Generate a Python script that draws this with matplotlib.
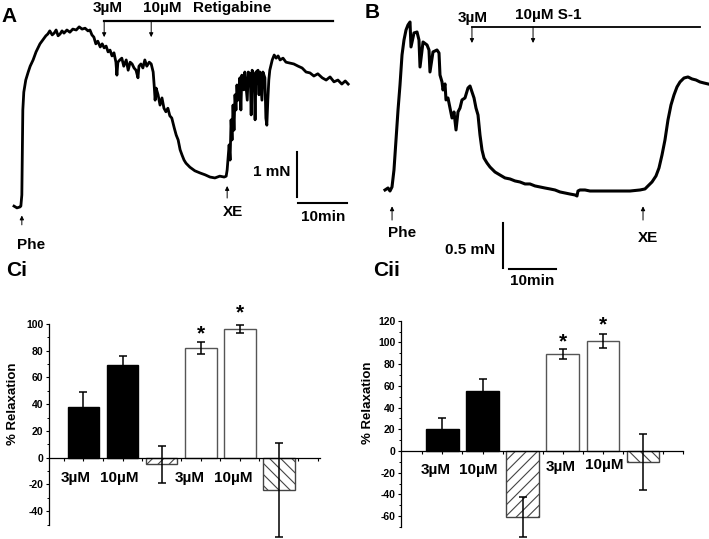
import matplotlib
matplotlib.use('Agg')
import matplotlib.pyplot as plt
import numpy as np
from matplotlib.ticker import MultipleLocator

plt.rcParams['font.family'] = ['Liberation Sans', 'DejaVu Sans']
plt.rcParams['font.weight'] = 'bold'
plt.rcParams['hatch.linewidth'] = 0.8
plt.rcParams['hatch.color'] = '#333333'
plt.rcParams['axes.unicode_minus'] = False

# ---------------- data ----------------
# Panel A trace: time (min) vs force (mN), Retigabine
a_time = [0, 0.6, 1.2, 1.4, 1.6, 1.7, 1.8, 2.0, 2.4, 2.9, 3.3, 3.9, 4.5, 4.9, 5.3, 5.9, 6.5, 6.9, 7.3, 7.8,
          8.2, 8.6, 9.0, 9.4, 9.8, 10.2, 10.8, 11.4, 12.0, 12.7, 13.3, 13.9, 14.5, 15.1, 15.5, 15.9, 16.3,
          16.7, 17.1, 17.6, 18.0, 18.4, 18.8, 19.2, 19.6, 20.0, 20.4, 20.8, 21.0, 21.2, 21.6, 22.0, 22.4,
          22.9, 23.3, 23.7, 24.1, 24.5, 24.9, 25.3, 25.5, 25.9, 26.3, 26.7, 27.1, 27.6, 28.0, 28.4, 28.6,
          28.8, 29.0, 29.4, 29.8, 30.2, 30.6, 31.0, 31.4, 31.8, 32.2, 32.7, 33.1, 33.5, 33.9, 34.3, 34.7,
          35.1, 35.9, 36.9, 38.0, 39.0, 40.0, 41.0, 42.0, 42.9, 43.3, 43.5, 43.7, 43.9, 44.1, 44.3, 44.5,
          44.7, 44.9, 45.1, 45.3, 45.5, 45.7, 46.1, 46.3, 46.5, 46.9, 47.1, 47.6, 47.8, 48.2, 48.4, 48.6,
          49.0, 49.2, 49.4, 49.8, 50.0, 50.2, 50.6, 50.8, 51.2, 51.4, 51.6, 51.8, 52.0, 52.2, 52.7, 53.1,
          53.5, 53.9, 54.3, 54.9, 55.5, 56.3, 57.1, 58.0, 58.8, 59.6, 60.4, 61.2, 62.0, 62.9, 63.7, 64.5,
          65.3, 66.1, 66.9, 67.6, 68.2]
a_force = [0.02, -0.02, 0, 0.02, 0.27, 1.28, 2.17, 2.57, 2.84, 3.02, 3.15, 3.29, 3.47, 3.56, 3.65, 3.74,
           3.83, 3.87, 3.94, 3.85, 3.89, 3.96, 3.83, 3.87, 3.94, 3.89, 3.96, 3.91, 3.98, 3.96, 4.03, 3.98,
           4.00, 3.94, 3.96, 3.85, 3.80, 3.65, 3.71, 3.58, 3.65, 3.56, 3.60, 3.47, 3.51, 3.38, 3.45, 3.24,
           2.95, 3.24, 3.29, 3.33, 3.15, 3.29, 3.06, 3.24, 3.20, 3.11, 3.06, 2.89, 3.15, 3.20, 3.11, 3.29,
           3.15, 3.24, 3.20, 3.02, 2.73, 2.39, 2.66, 2.51, 2.28, 2.44, 2.21, 2.13, 2.21, 2.04, 1.99, 1.77,
           1.61, 1.50, 1.28, 1.16, 1.05, 0.98, 0.89, 0.81, 0.76, 0.72, 0.67, 0.65, 0.69, 0.67, 0.69, 0.83,
           1.10, 1.39, 1.05, 1.95, 1.50, 2.28, 1.72, 2.51, 2.17, 2.73, 2.39, 2.89, 2.17, 2.95, 2.62, 3.02,
           2.39, 3.02, 2.98, 2.06, 3.06, 2.95, 1.95, 3.02, 3.06, 2.51, 3.02, 2.39, 3.02, 2.89, 1.99, 1.83,
           2.39, 2.84, 3.06, 3.29, 3.40, 3.33, 3.38, 3.29, 3.33, 3.24, 3.22, 3.20, 3.15, 3.11, 3.02, 3.00,
           2.93, 2.98, 2.89, 2.84, 2.91, 2.80, 2.84, 2.75, 2.82, 2.75]

# Panel B trace: time (min) vs force (mN), S-1
b_time = [0, 0.64, 1.06, 1.49, 1.91, 2.34, 2.77, 3.19, 3.62, 4.04, 4.47, 4.89, 5.32, 5.53, 6.17, 6.81,
          7.23, 7.45, 8.09, 8.94, 9.36, 9.57, 10.21, 11.06, 11.49, 11.70, 12.13, 12.34, 12.77, 12.98,
          13.40, 13.83, 14.26, 14.68, 15.11, 15.53, 15.96, 16.38, 17.02, 17.66, 18.09, 18.51, 18.94,
          19.36, 19.79, 20.21, 20.64, 21.06, 21.70, 22.34, 23.40, 24.47, 25.53, 26.60, 27.66, 28.72,
          29.79, 30.85, 31.91, 32.98, 34.04, 35.11, 36.17, 37.23, 38.30, 39.36, 40.43, 40.85, 41.06,
          41.49, 42.55, 43.62, 44.68, 45.74, 47.87, 50.0, 52.13, 54.26, 55.32, 55.96, 56.81, 57.66,
          58.30, 58.94, 59.57, 60.21, 60.85, 61.49, 62.13, 62.77, 63.62, 64.47, 65.32, 66.17, 67.02,
          67.87, 68.72]
b_force = [0, 0.023, -0.012, 0.035, 0.233, 0.581, 0.930, 1.221, 1.570, 1.744, 1.860, 1.919, 1.953, 1.663,
           1.826, 1.837, 1.744, 1.430, 1.721, 1.686, 1.628, 1.372, 1.605, 1.628, 1.593, 1.337, 1.256,
           1.163, 1.233, 1.047, 1.070, 0.953, 0.837, 0.907, 0.698, 0.907, 0.953, 1.047, 1.070, 1.186,
           1.209, 1.140, 1.070, 0.953, 0.872, 0.640, 0.465, 0.372, 0.314, 0.267, 0.209, 0.174, 0.140,
           0.128, 0.105, 0.093, 0.070, 0.070, 0.047, 0.035, 0.023, 0.012, 0, -0.023, -0.035, -0.047,
           -0.058, -0.070, -0.012, 0, 0, -0.012, -0.012, -0.012, -0.012, -0.012, -0.012, 0, 0.012, 0.047,
           0.093, 0.163, 0.256, 0.407, 0.581, 0.814, 0.988, 1.105, 1.198, 1.256, 1.302, 1.314, 1.291,
           1.279, 1.256, 1.244, 1.233]

# drug application times (min)
a_drug_times = [18.4, 28.0]
a_drug_end = 65.1
a_phe_time = 1.6
a_xe_time = 43.5
b_drug_times = [18.5, 31.5]
b_drug_end = 67.0
b_phe_time = 1.5
b_xe_time = 54.9

conc_labels = ['3µM', '10µM']

# Bar charts: % Relaxation
bar_pos = [1, 2, 3, 4, 5, 6]
ci_values = [38, 69, -5, 82, 96.5, -24]
ci_errors = [11, 7, 14, 4.5, 3, 35]
cii_values = [20, 55, -60.5, 89, 101, -10]
cii_errors = [10, 11.5, 18.5, 4.6, 6.5, 26]
bar_faces = ['black', 'black', 'white', 'white', 'white', 'white']
bar_edges = ['black', 'black', '#444444', '#555555', '#555555', '#444444']
bar_hatches = [None, None, '///', None, None, '\\\\\\']

# ---------------- figure ----------------
W, H = 709, 539
fig = plt.figure(figsize=(W / 100, H / 100), dpi=100)


def box(x0, y0, x1, y1):
    return [x0 / W, 1 - y1 / H, (x1 - x0) / W, (y1 - y0) / H]


def fp(x, y):
    return (x / W, 1 - y / H)


arrow_kw = dict(arrowstyle='-|>', lw=0.7, color='black', mutation_scale=6, shrinkA=0, shrinkB=0)
lab_fs = 11

# ---- Panel A ----
axA = fig.add_axes(box(0, 0, 360, 260))
axA.set_xlim(-2.857, 70.61)
axA.set_ylim(-1.186, 4.631)
axA.axis('off')
axA.plot(a_time, a_force, color='black', lw=2.0, solid_joinstyle='round')
axA.plot([a_drug_times[0], a_drug_end], [4.16, 4.16], color='black', lw=1.6)
for t in a_drug_times:
    axA.annotate('', xy=(t, 3.80), xytext=(t, 4.16), arrowprops=arrow_kw)
axA.text(19.2, 4.45, conc_labels[0], ha='center', va='center', fontsize=lab_fs)
axA.text(30.3, 4.45, conc_labels[1], ha='center', va='center', fontsize=lab_fs)
axA.text(44.5, 4.45, 'Retigabine', ha='center', va='center', fontsize=lab_fs)
axA.annotate('', xy=(a_phe_time, -0.19), xytext=(a_phe_time, -0.40), arrowprops=arrow_kw)
axA.text(3.5, -0.84, 'Phe', ha='center', va='center', fontsize=lab_fs)
axA.annotate('', xy=(a_xe_time, 0.47), xytext=(a_xe_time, 0.20), arrowprops=arrow_kw)
axA.text(44.7, -0.11, 'XE', ha='center', va='center', fontsize=lab_fs)
axA.plot([57.8, 57.8], [0.22, 1.22], color='black', lw=1.5)
axA.plot([58.0, 68.0], [0.09, 0.09], color='black', lw=1.5)
axA.text(56.3, 0.78, '1 mN', ha='right', va='center', fontsize=lab_fs)
axA.text(63.1, -0.22, '10min', ha='center', va='center', fontsize=lab_fs)

# ---- Panel B ----
axB = fig.add_axes(box(360, 0, 709, 290))
axB.set_xlim(-5.32, 68.94)
axB.set_ylim(-1.163, 2.209)
axB.axis('off')
axB.plot(b_time, b_force, color='black', lw=2.2, solid_joinstyle='round')
axB.plot([b_drug_times[0], b_drug_end], [1.895, 1.895], color='black', lw=1.3)
for t in b_drug_times:
    axB.annotate('', xy=(t, 1.709), xytext=(t, 1.895), arrowprops=arrow_kw)
axB.text(18.6, 2.0, conc_labels[0], ha='center', va='center', fontsize=lab_fs)
axB.text(34.8, 2.03, '10µM S-1', ha='center', va='center', fontsize=lab_fs)
axB.annotate('', xy=(b_phe_time, -0.19), xytext=(b_phe_time, -0.35), arrowprops=arrow_kw)
axB.text(3.6, -0.50, 'Phe', ha='center', va='center', fontsize=lab_fs)
axB.annotate('', xy=(b_xe_time, -0.19), xytext=(b_xe_time, -0.35), arrowprops=arrow_kw)
axB.text(56.0, -0.56, 'XE', ha='center', va='center', fontsize=lab_fs)
axB.plot([25.1, 25.1], [-0.384, -0.907], color='black', lw=1.5)
axB.plot([26.4, 36.4], [-0.919, -0.919], color='black', lw=1.5)
axB.text(23.4, -0.70, '0.5 mN', ha='right', va='center', fontsize=lab_fs)
axB.text(31.3, -1.058, '10min', ha='center', va='center', fontsize=lab_fs)

# ---- Panel letters ----
fig.text(*fp(9, 17), 'A', fontsize=15, ha='center', va='center')
fig.text(*fp(372, 12), 'B', fontsize=15, ha='center', va='center')
fig.text(*fp(17, 270), 'Ci', fontsize=15, ha='center', va='center')
fig.text(*fp(387, 271), 'Cii', fontsize=15, ha='center', va='center')


def bar_panel(rect, xlim, ylim, values, errors, major, star_y, label_xy):
    ax = fig.add_axes(rect)
    ax.set_xlim(*xlim)
    ax.set_ylim(*ylim)
    for x, v, fc, ec, h in zip(bar_pos, values, bar_faces, bar_edges, bar_hatches):
        ax.bar(x, v, width=0.81, color=fc, edgecolor=ec, hatch=h, linewidth=1.0, zorder=2)
    eb = ax.errorbar(bar_pos, values, yerr=errors, fmt='none', ecolor='black', elinewidth=1.1,
                     capsize=3, capthick=1.1, zorder=3)
    for child in eb.get_children():
        child.set_clip_on(False)
    for sp in ['top', 'right']:
        ax.spines[sp].set_visible(False)
    ax.spines['bottom'].set_position(('data', 0))
    ax.spines['left'].set_linewidth(0.9)
    ax.spines['bottom'].set_linewidth(0.9)
    ax.set_xticks(np.arange(0.5, 7.01, 0.5))
    ax.set_xticklabels([])
    ax.tick_params(axis='x', direction='out', length=2.5, width=0.8)
    ax.yaxis.set_major_locator(MultipleLocator(major))
    ax.yaxis.set_minor_locator(MultipleLocator(major / 2))
    ax.tick_params(axis='y', which='major', direction='out', length=2.5, width=0.8,
                   labelsize=7.5, pad=1.5)
    ax.tick_params(axis='y', which='minor', direction='out', length=1.5, width=0.7)
    for lab in ax.get_yticklabels():
        lab.set_fontweight('bold')
    ax.patch.set_alpha(0)
    for (x, y), s in zip(star_y, ['*', '*']):
        ax.text(x, y, s, ha='center', va='baseline', fontsize=15)
    for (x, y), s in zip(label_xy, conc_labels + conc_labels):
        ax.text(x, y, s, ha='center', va='center', fontsize=11)
    return ax


bar_panel(box(49, 324, 320, 524.6), (0.12, 7.05), (-50, 100), ci_values, ci_errors, 20,
          [(4, 88.5), (5, 104.5)],
          [(0.79, -15.2), (1.91, -15.2), (3.72, -15.2), (4.82, -15.2)])
bar_panel(box(400.7, 320.7, 683, 527), (-0.04, 7.0), (-70, 120), cii_values, cii_errors, 20,
          [(4, 95), (5, 111)],
          [(0.83, -17.5), (1.89, -17.5), (3.95, -14.4), (5.04, -12.9)])

fig.text(*fp(13, 404), '% Relaxation', rotation=90, ha='center', va='center', fontsize=9.5)
fig.text(*fp(368, 403), '% Relaxation', rotation=90, ha='center', va='center', fontsize=9.5)

fig.savefig('out.png', dpi=100)
